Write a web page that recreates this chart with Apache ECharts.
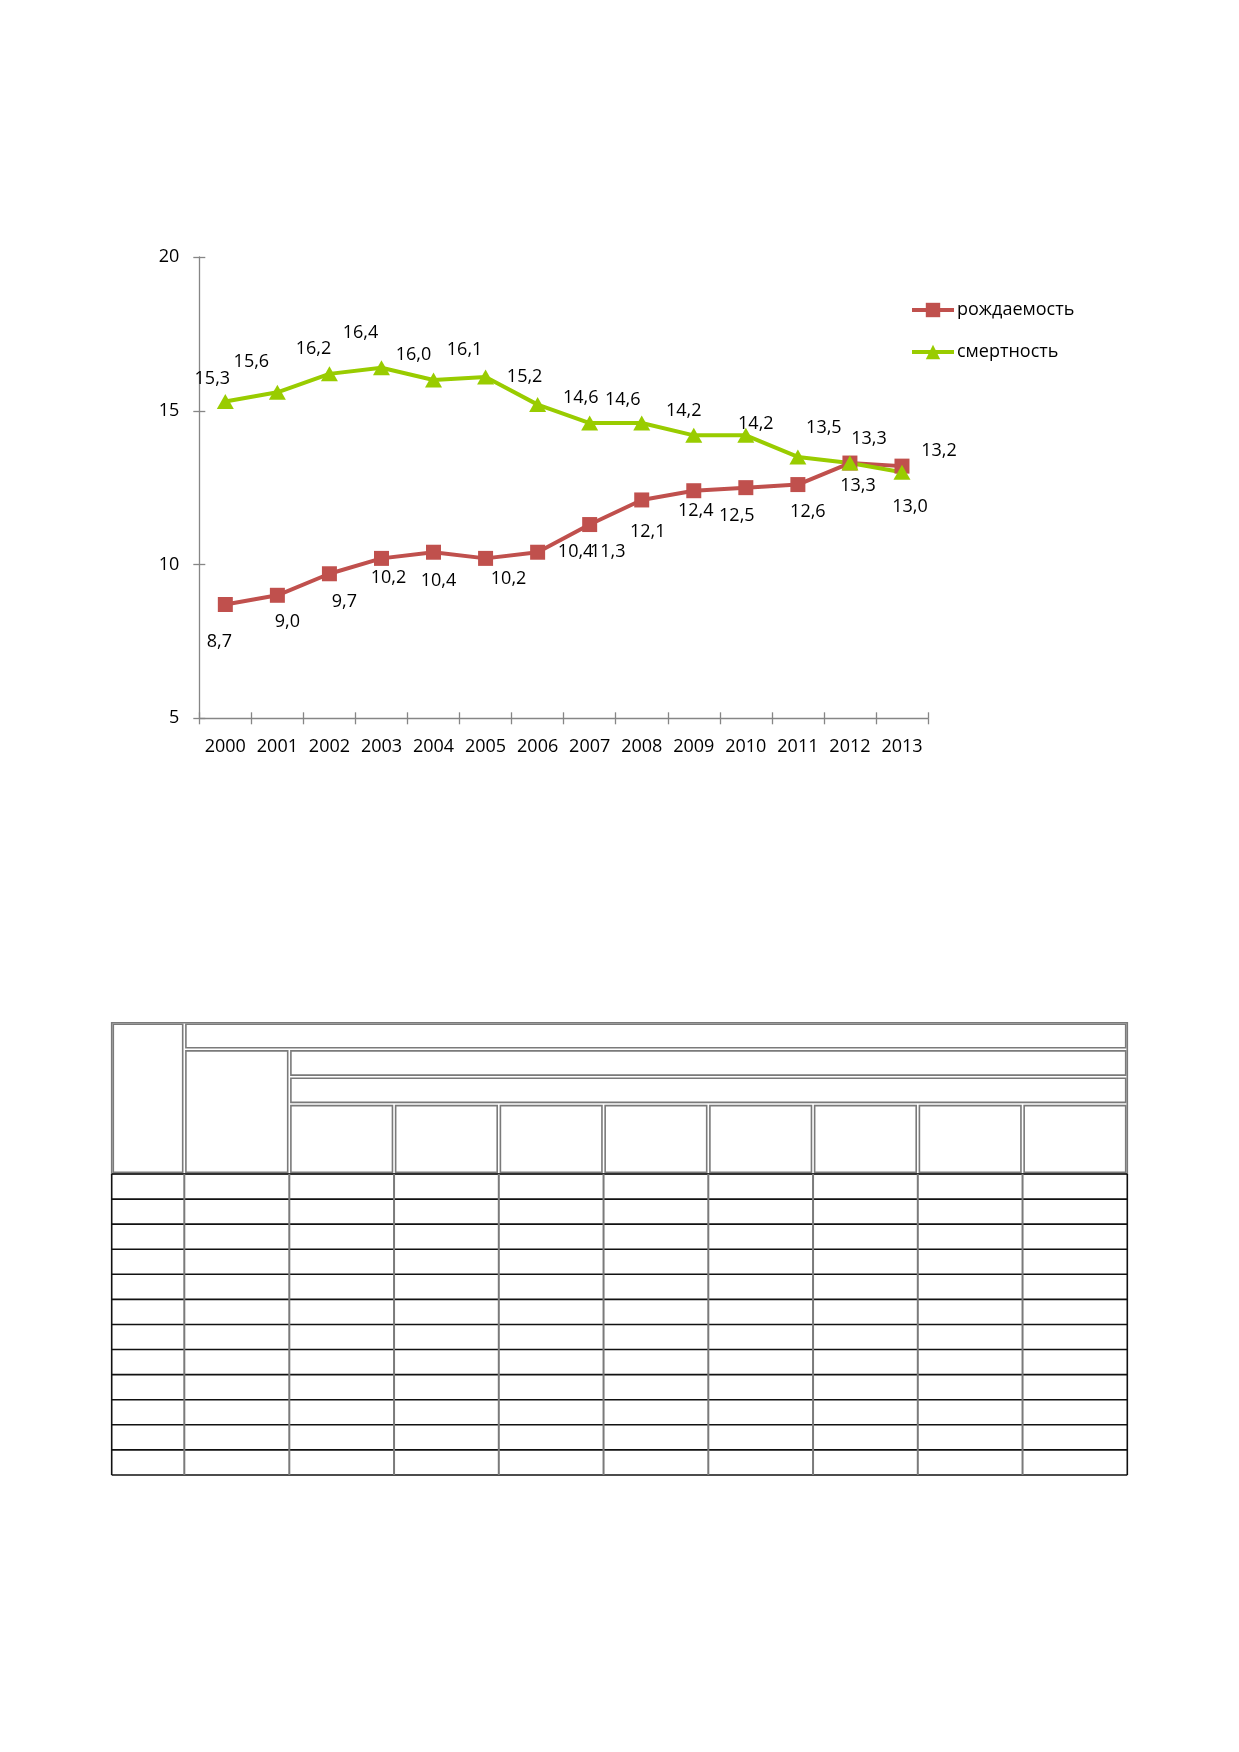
<!DOCTYPE html>
<html>
<head>
<meta charset="utf-8">
<script src="https://cdn.jsdelivr.net/npm/echarts@6/dist/echarts.min.js"></script>
<style>
  html, body { margin: 0; padding: 0; background: #fff; }
  #chart { width: 1239px; height: 1752px; }
</style>
</head>
<body>
<div id="chart"></div>
<script>
// data
const years = ['2000', '2001', '2002', '2003', '2004', '2005', '2006',
               '2007', '2008', '2009', '2010', '2011', '2012', '2013'];
const birthRate = [8.7, 9.0, 9.7, 10.2, 10.4, 10.2, 10.4, 11.3, 12.1, 12.4, 12.5, 12.6, 13.3, 13.2];
const deathRate = [15.3, 15.6, 16.2, 16.4, 16.0, 16.1, 15.2, 14.6, 14.6, 14.2, 14.2, 13.5, 13.3, 13.0];
const yMin = 5, yMax = 20, yStep = 5;
const seriesNames = ['рождаемость', 'смертность'];

// label placement (px offsets from the marker), hand-placed like in the original
const birthLabelOffsets = [[-6, 37], [10, 27], [15, 28], [7, 19], [5, 29], [23, 20], [38, 0],
                           [18, 27], [6, 32], [2, 20], [-9, 28], [10, 27], [8, 23], [37, -15]];
const deathLabelOffsets = [[-13, -23], [-26, -30], [-16, -25], [-21, -35], [-20, -25], [-21, -27], [-13, -28],
                           [-9, -25], [-19, -23], [-10, -24], [10, -11], [26, -29], [19, -24], [8, 35]];

const FONT = '"Open Sans", sans-serif';
const RED = '#C0504D';
const GREEN = '#99CC00';
const AXIS = '#868686';

function withLabels(values, offsets) {
  return values.map((v, i) => ({ value: v, label: { offset: offsets[i] } }));
}
const fmt = p => p.value.toFixed(1).replace('.', ',');

// empty table below the chart
const tableLeft = 111.7, tableTop = 1022.7;
const colX = [111.7, 184.3];
for (let k = 0; k <= 8; k++) colX.push(289.3 + k * 104.75);
const headRowY = [1022.7, 1049.3, 1076.7, 1104, 1174];
const bodyRows = 12, bodyRowH = 25.08;
const tableRight = colX[colX.length - 1];
const tableBottom = headRowY[4] + bodyRows * bodyRowH;

const graphics = [];
function cell(x1, y1, x2, y2) {
  graphics.push({
    type: 'rect', silent: true,
    shape: { x: x1 + 1.6, y: y1 + 1.6, width: x2 - x1 - 3.2, height: y2 - y1 - 3.2 },
    style: { fill: 'none', stroke: '#7a7a7a', lineWidth: 1.6 }
  });
}
function line(x1, y1, x2, y2, color, w) {
  graphics.push({
    type: 'line', silent: true,
    shape: { x1: x1, y1: y1, x2: x2, y2: y2 },
    style: { stroke: color, lineWidth: w }
  });
}
// header: outer border + separate cells
graphics.push({
  type: 'rect', silent: true,
  shape: { x: tableLeft, y: tableTop, width: tableRight - tableLeft, height: headRowY[4] - tableTop },
  style: { fill: 'none', stroke: '#7a7a7a', lineWidth: 1.6 }
});
cell(colX[0], headRowY[0], colX[1], headRowY[4]);
cell(colX[1], headRowY[0], tableRight, headRowY[1]);
cell(colX[1], headRowY[1], colX[2], headRowY[4]);
cell(colX[2], headRowY[1], tableRight, headRowY[2]);
cell(colX[2], headRowY[2], tableRight, headRowY[3]);
for (let k = 2; k < colX.length - 1; k++) cell(colX[k], headRowY[3], colX[k + 1], headRowY[4]);
// body grid
for (let r = 0; r <= bodyRows; r++) {
  const y = headRowY[4] + r * bodyRowH;
  line(tableLeft, y, tableRight, y, '#111', 1.6);
}
colX.forEach((x, i) => {
  const edge = i === 0 || i === colX.length - 1;
  line(x, headRowY[4], x, tableBottom, edge ? '#111' : '#7a7a7a', edge ? 1.6 : 2);
});

const chart = echarts.init(document.getElementById('chart'));
chart.setOption({
  animation: false,
  backgroundColor: '#fff',
  textStyle: { fontFamily: FONT },
  grid: { left: 199.3, right: 311, top: 257, bottom: 1033.7, containLabel: false },
  legend: {
    orient: 'vertical',
    left: 905,
    top: 296,
    itemWidth: 42,
    itemHeight: 18,
    itemGap: 24,
    data: seriesNames,
    lineStyle: { width: 4 },
    textStyle: { fontFamily: FONT, fontSize: 18, color: '#000', padding: [0, 0, 0, -2] }
  },
  xAxis: [{
    type: 'category',
    data: years,
    boundaryGap: true,
    axisLine: { lineStyle: { color: AXIS, width: 1.3 } },
    axisTick: { show: true, length: 6, inside: false, lineStyle: { color: AXIS, width: 1.3 } },
    axisLabel: { color: '#000', fontSize: 18, fontFamily: FONT, margin: 20, interval: 0 }
  }, {
    type: 'category',
    data: years,
    position: 'bottom',
    boundaryGap: true,
    axisLine: { show: false },
    axisTick: { show: true, length: 6, inside: true, lineStyle: { color: AXIS, width: 1.3 } },
    axisLabel: { show: false }
  }],
  yAxis: [{
    type: 'value',
    min: yMin, max: yMax, interval: yStep,
    axisLine: { show: true, lineStyle: { color: AXIS, width: 1.3 } },
    axisTick: { show: true, length: 6, lineStyle: { color: AXIS, width: 1.3 } },
    splitLine: { show: false },
    axisLabel: { color: '#000', fontSize: 18, fontFamily: FONT, margin: 20 }
  }, {
    type: 'value',
    position: 'left',
    min: yMin, max: yMax, interval: yStep,
    axisLine: { show: false },
    axisTick: { show: true, length: 6, inside: true, lineStyle: { color: AXIS, width: 1.3 } },
    splitLine: { show: false },
    axisLabel: { show: false }
  }],
  series: [{
    name: seriesNames[0],
    type: 'line',
    data: withLabels(birthRate, birthLabelOffsets),
    symbol: 'rect',
    symbolSize: 15,
    lineStyle: { color: RED, width: 4 },
    itemStyle: { color: RED },
    label: {
      show: true, position: 'inside', formatter: fmt,
      color: '#000', fontSize: 18, fontFamily: FONT, align: 'center', verticalAlign: 'middle'
    }
  }, {
    name: seriesNames[1],
    type: 'line',
    data: withLabels(deathRate, deathLabelOffsets),
    symbol: 'triangle',
    symbolSize: [17, 15],
    lineStyle: { color: GREEN, width: 4 },
    itemStyle: { color: GREEN },
    label: {
      show: true, position: 'inside', formatter: fmt,
      color: '#000', fontSize: 18, fontFamily: FONT, align: 'center', verticalAlign: 'middle'
    }
  }],
  graphic: graphics
});
</script>
</body>
</html>
